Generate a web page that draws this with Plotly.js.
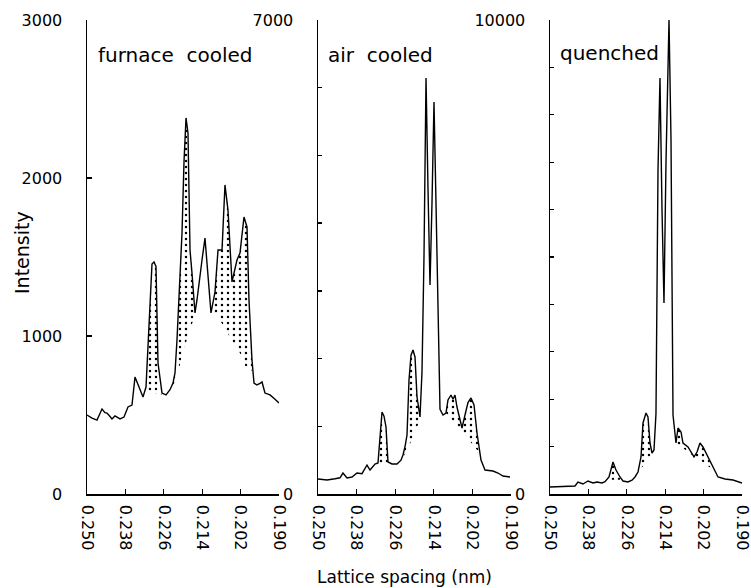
<!DOCTYPE html>
<html><head><meta charset="utf-8">
<script src="https://cdn.plot.ly/plotly-3.0.1.min.js"></script>
<style>html,body{margin:0;padding:0;background:#fff}</style>
</head><body><div id="chart" style="width:751px;height:588px"></div>
<script>
// ---------- data ----------
const xTicks = [0.250, 0.238, 0.226, 0.214, 0.202, 0.190];
const xTickText = ['0.250', '0.238', '0.226', '0.214', '0.202', '0.190'];

// furnace cooled
const furnaceX = [0.25000,0.24844,0.24688,0.24531,0.24438,0.24375,0.24281,0.24219,0.24125,0.24031,0.23969,0.23844,0.23719,0.23594,0.23500,0.23375,0.23250,0.23156,0.23094,0.23031,0.22969,0.22906,0.22844,0.22781,0.22656,0.22531,0.22406,0.22313,0.22250,0.22188,0.22094,0.22031,0.21969,0.21906,0.21844,0.21781,0.21719,0.21625,0.21563,0.21469,0.21406,0.21313,0.21219,0.21125,0.21000,0.20906,0.20781,0.20688,0.20594,0.20469,0.20313,0.20219,0.20094,0.20000,0.19938,0.19844,0.19781,0.19688,0.19594,0.19531,0.19438,0.19281,0.19125,0.19000];
const furnaceY = [500,480,468,538,515,512,490,475,494,480,475,487,551,563,740,677,614,677,911,1150,1455,1468,1440,829,639,627,660,702,766,975,1400,1652,2100,2380,2285,1544,1399,1146,1228,1399,1481,1620,1399,1146,1278,1544,1544,1956,1797,1342,1481,1525,1753,1690,1228,848,702,690,700,709,639,627,600,576];
const furnaceShadeX = [[0.23156,0.22656],[0.22313,0.22094,0.21906,0.21781,0.21625],[0.21125,0.21000,0.20688,0.20438,0.20219,0.20031,0.19844]];
const furnaceShadeY = [[640,630],[680,820,960,1050,1120],[1146,1146,1051,956,892,800,780]];

// air cooled
const airX = [0.25000,0.24720,0.24471,0.24316,0.24223,0.24098,0.23943,0.23788,0.23632,0.23477,0.23383,0.23228,0.23135,0.23072,0.23010,0.22948,0.22886,0.22824,0.22699,0.22544,0.22420,0.22358,0.22295,0.22233,0.22171,0.22109,0.22047,0.21984,0.21922,0.21829,0.21767,0.21705,0.21642,0.21580,0.21518,0.21456,0.21394,0.21332,0.21269,0.21207,0.21114,0.21021,0.20959,0.20865,0.20803,0.20741,0.20679,0.20586,0.20523,0.20430,0.20337,0.20244,0.20150,0.20057,0.19995,0.19933,0.19808,0.19560,0.19404,0.19249,0.19031];
const airY = [221,207,225,240,310,236,251,310,300,428,354,443,458,800,1211,1150,990,473,443,443,500,576,700,871,1684,2050,2127,2024,1433,1137,1800,3500,6145,4500,3087,4300,5790,4300,2870,1250,1167,1196,1388,1462,1400,1462,1285,1100,975,1167,1350,1418,1315,901,700,502,354,340,310,266,251];
const airShadeX = [[0.23135,0.22824],[0.22358,0.22171,0.22047,0.21829],[0.21021,0.20741,0.20523,0.20368,0.20150,0.19995]];
const airShadeY = [[450,460],[540,700,850,1093],[1196,1049,920,842,700,620]];

// quenched
const quenchX = [0.25000,0.24688,0.24375,0.24219,0.24125,0.23969,0.23813,0.23656,0.23531,0.23375,0.23281,0.23156,0.23031,0.22938,0.22813,0.22719,0.22563,0.22438,0.22344,0.22250,0.22156,0.22094,0.22000,0.21938,0.21875,0.21813,0.21750,0.21688,0.21625,0.21563,0.21500,0.21438,0.21375,0.21281,0.21219,0.21188,0.21156,0.21063,0.21000,0.20906,0.20844,0.20688,0.20563,0.20500,0.20406,0.20313,0.20219,0.20063,0.19906,0.19750,0.19531,0.19281,0.19000];
const quenchY = [148,155,165,169,253,211,274,232,253,232,260,359,675,506,359,274,253,290,359,464,781,1498,1709,1624,1076,865,928,1700,6835,8776,6000,4030,7000,10000,7500,4240,1667,1076,1392,1308,1076,992,865,781,886,1076,992,781,548,359,316,295,232];
const quenchShadeX = [[0.23156,0.22813],[0.22250,0.21813],[0.21063,0.20844,0.20625,0.20500,0.20313,0.20094,0.19906]];
const quenchShadeY = [[300,300],[440,865],[1076,960,860,781,720,600,520]];

const panelLabels = ['furnace\u00a0\u00a0cooled', 'air\u00a0\u00a0cooled', 'quenched'];
const yMax = [3000, 7000, 10000];
const yTicks1 = [0, 1000, 2000, 3000];
const yTicks2 = [0, 1000, 2000, 3000, 4000, 5000, 6000, 7000];
const yTicks3 = [0, 1000, 2000, 3000, 4000, 5000, 6000, 7000, 8000, 9000, 10000];

// ---------- build ----------
const W = 751, H = 588;
const FONT = 'DejaVu Sans, sans-serif';
const px = v => v / W, py = v => 1 - v / H;

function shadePoly(cx, cy, lx, ly) {
  const lo = Math.min(...lx), hi = Math.max(...lx);
  const X = [], Y = [];
  for (let i = 0; i < cx.length; i++) {
    if (cx[i] >= lo - 1e-9 && cx[i] <= hi + 1e-9) { X.push(cx[i]); Y.push(cy[i]); }
  }
  for (let j = lx.length - 1; j >= 0; j--) { X.push(lx[j]); Y.push(ly[j]); }
  return {X, Y};
}

const panels = [
  {cx: furnaceX, cy: furnaceY, sx: furnaceShadeX, sy: furnaceShadeY, xa: 'x', ya: 'y'},
  {cx: airX, cy: airY, sx: airShadeX, sy: airShadeY, xa: 'x2', ya: 'y2'},
  {cx: quenchX, cy: quenchY, sx: quenchShadeX, sy: quenchShadeY, xa: 'x3', ya: 'y3'}
];

const traces = [];
panels.forEach(p => {
  p.sx.forEach((lx, k) => {
    const poly = shadePoly(p.cx, p.cy, lx, p.sy[k]);
    traces.push({
      type: 'scatter', mode: 'lines', x: poly.X, y: poly.Y, xaxis: p.xa, yaxis: p.ya,
      fill: 'toself', fillcolor: 'rgba(0,0,0,0)', line: {width: 0, color: 'rgba(0,0,0,0)'},
      fillpattern: {shape: '.', size: 6, solidity: 0.13, fgcolor: '#000', bgcolor: 'rgba(0,0,0,0)', fgopacity: 1},
      hoverinfo: 'skip', showlegend: false
    });
  });
  traces.push({
    type: 'scatter', mode: 'lines', x: p.cx, y: p.cy, xaxis: p.xa, yaxis: p.ya,
    line: {color: '#000', width: 1.4}, showlegend: false, hoverinfo: 'skip'
  });
});

const xDom = [[87, 279], [318, 511], [550, 742]];
const yDom = [py(494), py(20)];

function xAxis(i) {
  return {
    domain: [px(xDom[i][0]), px(xDom[i][1])], range: [0.250, 0.190], anchor: i === 0 ? 'y' : 'y' + (i + 1),
    tickmode: 'array', tickvals: xTicks, ticktext: xTickText, tickangle: 90,
    ticks: 'inside', ticklen: 5, tickwidth: 1.3, tickcolor: '#000',
    showline: true, linecolor: '#000', linewidth: 1.5, showgrid: false, zeroline: false,
    ticklabelstandoff: 6, ticklabeloverflow: 'allow',
    tickfont: {family: FONT, size: 16, color: '#000'}, fixedrange: true
  };
}
function yAxis(i, vals) {
  const txt = vals.map((v, k) => (k === 0 || k === vals.length - 1) ? String(v) : '');
  return {
    domain: yDom, range: [0, yMax[i]], anchor: i === 0 ? 'x' : 'x' + (i + 1),
    tickmode: 'array', tickvals: vals, ticktext: i === 0 ? vals.map(String) : txt,
    ticks: 'inside', ticklen: i === 0 ? 5 : 4, tickwidth: 1.3, tickcolor: '#000',
    showline: true, linecolor: '#000', linewidth: 1.5, showgrid: false, zeroline: false,
    ticklabelstandoff: 20, ticklabeloverflow: 'allow',
    tickfont: {family: FONT, size: 16, color: '#000'}, fixedrange: true
  };
}

const layout = {
  width: W, height: H, margin: {l: 0, r: 0, t: 0, b: 0},
  paper_bgcolor: '#fff', plot_bgcolor: 'rgba(0,0,0,0)', showlegend: false,
  xaxis: xAxis(0), xaxis2: xAxis(1), xaxis3: xAxis(2),
  yaxis: yAxis(0, yTicks1), yaxis2: yAxis(1, yTicks2), yaxis3: yAxis(2, yTicks3),
  annotations: [
    {text: panelLabels[0], x: px(96), y: py(55), xref: 'paper', yref: 'paper', xanchor: 'left', yanchor: 'middle', showarrow: false, font: {family: FONT, size: 20, color: '#000'}},
    {text: panelLabels[1], x: px(326), y: py(55), xref: 'paper', yref: 'paper', xanchor: 'left', yanchor: 'middle', showarrow: false, font: {family: FONT, size: 20, color: '#000'}},
    {text: panelLabels[2], x: px(558), y: py(53), xref: 'paper', yref: 'paper', xanchor: 'left', yanchor: 'middle', showarrow: false, font: {family: FONT, size: 20, color: '#000'}},
    {text: 'Intensity', x: px(22), y: py(253), xref: 'paper', yref: 'paper', xanchor: 'center', yanchor: 'middle', textangle: -90, showarrow: false, font: {family: FONT, size: 19, color: '#000'}},
    {text: 'Lattice spacing (nm)', x: px(404), y: py(577), xref: 'paper', yref: 'paper', xanchor: 'center', yanchor: 'middle', showarrow: false, font: {family: FONT, size: 17, color: '#000'}}
  ]
};

Plotly.newPlot('chart', traces, layout, {displayModeBar: false, staticPlot: true});
</script></body></html>
